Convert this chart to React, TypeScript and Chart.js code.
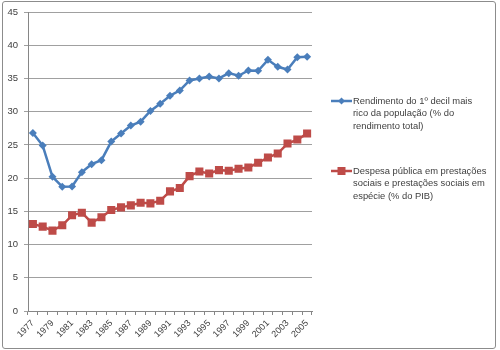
import React, { useEffect, useRef } from "react";
import { Chart, registerables } from "chart.js";

Chart.register(...registerables);

const years = [
  "1977", "1978", "1979", "1980", "1981", "1982", "1983", "1984", "1985", "1986",
  "1987", "1988", "1989", "1990", "1991", "1992", "1993", "1994", "1995", "1996",
  "1997", "1998", "1999", "2000", "2001", "2002", "2003", "2004", "2005",
];

const richShare = [
  26.8, 24.9, 20.2, 18.7, 18.75, 20.9, 22.1, 22.7, 25.5, 26.7,
  27.9, 28.5, 30.1, 31.2, 32.4, 33.2, 34.7, 35.0, 35.3, 35.0,
  35.8, 35.4, 36.2, 36.15, 37.8, 36.75, 36.35, 38.2, 38.25,
];

const socialSpending = [
  13.1, 12.7, 12.1, 12.9, 14.4, 14.8, 13.3, 14.1, 15.2, 15.6,
  15.9, 16.3, 16.2, 16.6, 18.0, 18.5, 20.3, 21.0, 20.7, 21.2,
  21.1, 21.4, 21.6, 22.3, 23.1, 23.7, 25.2, 25.8, 26.7,
];

const legendLinesRich = ["Rendimento do 1º decil mais", "rico da população (% do", "rendimento total)"];
const legendLinesSocial = ["Despesa pública em prestações", "sociais e prestações sociais em", "espécie (% do PIB)"];

const BLUE = "#4A7EBB";
const RED = "#BE4B48";
const TEXT = "#404040";
const FONT = "Liberation Sans";

const legendPlugin = {
  id: "sideLegend",
  afterDraw(chart: any) {
    const ctx = chart.ctx;
    const groups = [
      { lines: legendLinesRich, ds: chart.data.datasets[0], y: 101 },
      { lines: legendLinesSocial, ds: chart.data.datasets[1], y: 171 },
    ];
    ctx.save();
    groups.forEach((g) => {
      const x0 = 331;
      const x1 = 352;
      ctx.strokeStyle = g.ds.borderColor;
      ctx.lineWidth = 2.5;
      ctx.beginPath();
      ctx.moveTo(x0, g.y);
      ctx.lineTo(x1, g.y);
      ctx.stroke();
      ctx.fillStyle = g.ds.borderColor;
      const cx = (x0 + x1) / 2;
      if (g.ds.pointStyle === "rect") {
        ctx.fillRect(cx - 4, g.y - 4, 8, 8);
      } else {
        ctx.beginPath();
        ctx.moveTo(cx, g.y - 3.5);
        ctx.lineTo(cx + 3.5, g.y);
        ctx.lineTo(cx, g.y + 3.5);
        ctx.lineTo(cx - 3.5, g.y);
        ctx.closePath();
        ctx.fill();
      }
      ctx.fillStyle = TEXT;
      ctx.font = `9.4px "${FONT}"`;
      ctx.textBaseline = "middle";
      ctx.textAlign = "left";
      g.lines.forEach((line: string, i: number) => {
        ctx.fillText(line, x1 + 1, g.y + i * 12.5);
      });
    });
    ctx.restore();
  },
};

function LineChart() {
  const canvasRef = useRef<HTMLCanvasElement | null>(null);

  useEffect(() => {
    document.body.style.margin = "0";
    const canvas = canvasRef.current;
    if (!canvas) return;
    const chart = new Chart(canvas, {
      type: "line",
      data: {
        labels: years,
        datasets: [
          {
            label: legendLinesRich.join(" "),
            data: richShare,
            borderColor: BLUE,
            backgroundColor: BLUE,
            borderWidth: 2.5,
            pointStyle: "rectRot",
            pointRadius: 4,
            pointBorderWidth: 0,
            tension: 0,
          },
          {
            label: legendLinesSocial.join(" "),
            data: socialSpending,
            borderColor: RED,
            backgroundColor: RED,
            borderWidth: 2.5,
            pointStyle: "rect",
            pointRadius: 5.7,
            pointBorderWidth: 0,
            tension: 0,
          },
        ],
      },
      options: {
        animation: false,
        responsive: false,
        maintainAspectRatio: false,
        layout: { padding: { top: 12, right: 188, bottom: 0, left: 0 } },
        plugins: {
          legend: { display: false },
          tooltip: { enabled: false },
        },
        scales: {
          x: {
            offset: true,
            grid: {
              offset: true,
              drawOnChartArea: false,
              drawTicks: true,
              tickLength: 4,
              color: "#868686",
            },
            border: { display: true, color: "#868686", width: 1 },
            ticks: {
              autoSkip: false,
              minRotation: 45,
              maxRotation: 45,
              padding: 3,
              color: TEXT,
              font: { family: FONT, size: 9 },
              callback: (_v: any, i: number) => (i % 2 === 0 ? years[i] : ""),
            },
            afterFit: (s: any) => {
              s.height = 39;
            },
          },
          y: {
            min: 0,
            max: 45,
            grid: { color: "#A0A0A0", tickLength: 4, drawTicks: true },
            border: { display: true, color: "#868686", width: 1 },
            ticks: {
              stepSize: 5,
              padding: 6,
              color: TEXT,
              font: { family: FONT, size: 9.5 },
            },
            afterFit: (s: any) => {
              s.width = 28;
            },
          },
        },
      },
      plugins: [legendPlugin],
    });
    return () => chart.destroy();
  }, []);

  return (
    <div style={{ position: "relative", width: 500, height: 350, background: "#fff" }}>
      <canvas ref={canvasRef} width={500} height={350} style={{ display: "block" }} />
      <div
        style={{
          position: "absolute",
          left: 2,
          top: 1,
          width: 492,
          height: 346,
          border: "1px solid #8C8C8C",
          borderRadius: 3,
          pointerEvents: "none",
        }}
      />
    </div>
  );
}

export default function App() {
  return <LineChart />;
}
